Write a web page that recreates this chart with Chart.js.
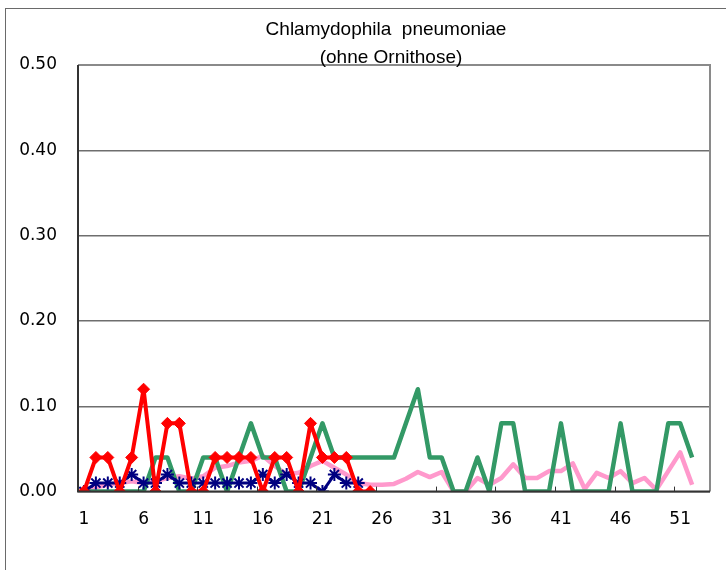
<!DOCTYPE html>
<html>
<head>
<meta charset="utf-8">
<script src="https://cdn.jsdelivr.net/npm/chart.js@4"></script>
<style>
  html, body { margin: 0; padding: 0; background: #ffffff; }
  #wrap { position: relative; width: 726px; height: 570px; }
  canvas { display: block; }
</style>
</head>
<body>
<div id="wrap"><canvas id="c" width="726" height="570"></canvas></div>
<script>
// ---- data ----
const weeks = Array.from({length: 53}, (_, i) => String(i + 1));
const titleLines = ["Chlamydophila  pneumoniae", "(ohne Ornithose)"];

const redSeries = [0, 0.04, 0.04, 0, 0.04, 0.12, 0, 0.08, 0.08, 0, 0, 0.04, 0.04, 0.04, 0.04, 0,
  0.04, 0.04, 0, 0.08, 0.04, 0.04, 0.04, 0, 0];

const blueSeries = [0, 0.01, 0.01, 0.01, 0.02, 0.01, 0.01, 0.02, 0.01, 0.01, 0.01, 0.01, 0.01, 0.01,
  0.01, 0.02, 0.01, 0.02, 0.01, 0.01, 0, 0.02, 0.01, 0.01];

const greenSeries = [0, 0, 0, 0, 0, 0, 0.04, 0.04, 0, 0, 0.04, 0.04, 0, 0.04, 0.08, 0.04, 0.04, 0, 0,
  0.04, 0.08, 0.04, 0.04, 0.04, 0.04, 0.04, 0.04, 0.08, 0.12, 0.04, 0.04, 0, 0, 0.04, 0, 0.08, 0.08,
  0, 0, 0, 0.08, 0, 0, 0, 0, 0.08, 0, 0, 0, 0.08, 0.08, 0.04];

const pinkSeries = [0.003, 0.005, 0.008, 0.01, 0.012, 0.01, 0.012, 0.016, 0.018, 0.015, 0.018, 0.028,
  0.03, 0.034, 0.036, 0.042, 0.03, 0.02, 0.022, 0.03, 0.036, 0.028, 0.02, 0.01, 0.008, 0.008, 0.009,
  0.015, 0.023, 0.017, 0.023, 0, 0, 0.016, 0.008, 0.016, 0.032, 0.016, 0.016, 0.024, 0.024, 0.033,
  0.003, 0.022, 0.016, 0.024, 0.01, 0.016, 0.002, 0.024, 0.046, 0.008];

const yTicks = [0, 0.1, 0.2, 0.3, 0.4, 0.5];

// ---- plugins ----
const frame = {
  id: 'frame',
  beforeDraw(chart) {
    const ctx = chart.ctx;
    ctx.save();
    ctx.strokeStyle = '#6a6a6a';
    ctx.lineWidth = 1;
    ctx.strokeRect(5.5, 8.5, 900, 900);
    ctx.restore();
  },
  afterDatasetsDraw(chart) {
    const ctx = chart.ctx, a = chart.chartArea, xs = chart.scales.x;
    ctx.save();
    ctx.strokeStyle = '#8a8a8a';
    ctx.lineWidth = 2;
    ctx.beginPath();
    ctx.moveTo(a.left, a.top); ctx.lineTo(a.right, a.top); ctx.lineTo(a.right, a.bottom);
    ctx.stroke();
    ctx.strokeStyle = '#333333';
    ctx.lineWidth = 2;
    ctx.beginPath();
    ctx.moveTo(a.left, a.top); ctx.lineTo(a.left, a.bottom); ctx.lineTo(a.right, a.bottom);
    ctx.stroke();
    ctx.lineWidth = 1;
    const half = (xs.getPixelForValue(1) - xs.getPixelForValue(0)) / 2;
    for (let i = 0; i < weeks.length; i += 5) {
      const px = Math.round(xs.getPixelForValue(i) - half) + 0.5;
      ctx.beginPath(); ctx.moveTo(px, a.bottom); ctx.lineTo(px, a.bottom - 5); ctx.stroke();
    }
    ctx.restore();
  },
  afterDraw(chart) {
    const ctx = chart.ctx;
    ctx.save();
    ctx.fillStyle = '#000';
    ctx.font = '19px "Liberation Sans Narrow", "Liberation Sans", Arial, sans-serif';
    ctx.textAlign = 'center';
    ctx.textBaseline = 'middle';
    ctx.fillText(titleLines[0], 386, 30);
    ctx.fillText(titleLines[1], 391, 58);
    ctx.restore();
  }
};

new Chart(document.getElementById('c'), {
  type: 'line',
  data: {
    labels: weeks,
    datasets: [
      { label: 'red', data: redSeries, borderColor: '#ff0000', backgroundColor: '#ff0000',
        borderWidth: 4, borderJoinStyle: 'round', pointStyle: 'rectRot', pointRadius: 6,
        pointBorderWidth: 1, tension: 0, order: 1 },
      { label: 'blue', data: blueSeries, borderColor: '#000080', backgroundColor: '#000080',
        borderWidth: 3, borderJoinStyle: 'round', pointStyle: 'star', pointRadius: 6.5,
        pointBorderWidth: 2, tension: 0, order: 2 },
      { label: 'green', data: greenSeries, borderColor: '#339966', backgroundColor: '#339966',
        borderWidth: 4.5, borderJoinStyle: 'round', pointRadius: 0, tension: 0, order: 3 },
      { label: 'pink', data: pinkSeries, borderColor: '#ff99cc', backgroundColor: '#ff99cc',
        borderWidth: 4.5, borderJoinStyle: 'round', pointRadius: 0, tension: 0, order: 4 }
    ]
  },
  options: {
    responsive: false,
    animation: false,
    events: [],
    layout: { padding: { left: 0, right: 16, top: 65, bottom: 22 } },
    plugins: { legend: { display: false }, tooltip: { enabled: false }, title: { display: false } },
    scales: {
      x: {
        type: 'category',
        offset: true,
        grid: { display: false, drawTicks: false },
        border: { display: false },
        ticks: {
          autoSkip: false, maxRotation: 0, minRotation: 0, padding: 18, color: '#000',
          font: { family: '"DejaVu Sans", sans-serif', size: 17 },
          callback: (v, i) => (i % 5 === 0 ? weeks[i] : '')
        }
      },
      y: {
        min: 0, max: 0.5,
        afterBuildTicks: (s) => { s.ticks = yTicks.map(v => ({ value: v })); },
        afterFit: (s) => { s.width = 78; },
        grid: { color: '#6e6e6e', lineWidth: 1.5, drawTicks: false },
        border: { display: false },
        ticks: {
          padding: 21, color: '#000',
          font: { family: '"DejaVu Sans", sans-serif', size: 17 },
          callback: (v) => Number(v).toFixed(2)
        }
      }
    }
  },
  plugins: [frame]
});
</script>
</body>
</html>
